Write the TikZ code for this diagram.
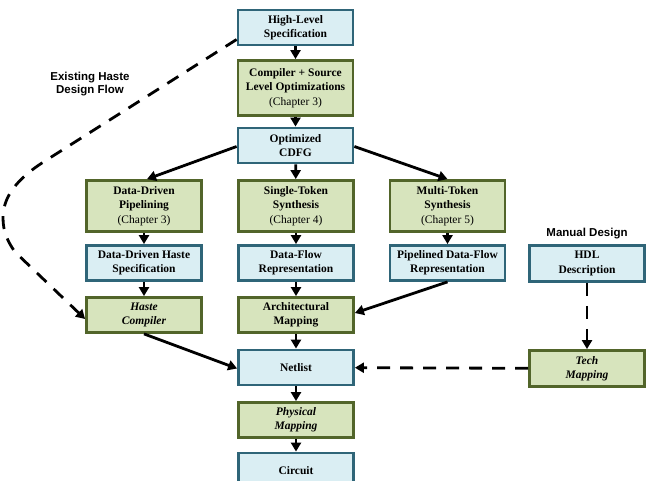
\documentclass[tikz,border=0pt]{standalone}
\usepackage{fontspec}
\setmainfont{Liberation Serif}
\newfontfamily\labelfont{Liberation Sans}
\usetikzlibrary{arrows.meta,calc}
\definecolor{bluefill}{HTML}{DAEEF3}
\definecolor{blueline}{HTML}{2F6578}
\definecolor{greenfill}{HTML}{D7E4BD}
\definecolor{greenline}{HTML}{52652A}
\begin{document}
\begin{tikzpicture}[x=1pt,y=-1pt,
  box/.style={draw,line width=2.8pt,minimum width=115pt,inner sep=0pt,align=center,
    font=\fontsize{11.5}{14.3}\selectfont\bfseries},
  bluebox/.style={box,fill=bluefill,draw=blueline},
  greenbox/.style={box,fill=greenfill,draw=greenline},
  arr/.style={line width=2.8pt,-{Triangle[length=9pt,width=10pt]}},
  darr/.style={arr,dash pattern=on 13pt off 10pt},
  lbl/.style={font=\labelfont\fontsize{11.5}{13.5}\selectfont\bfseries,align=center}]
\useasboundingbox (0,0) rectangle (651,481);
% boxes
\node[bluebox,minimum height=35pt] (hl) at (295.5,27.5) {High-Level\\Specification};
\node[greenbox,minimum height=55pt] (comp) at (295.5,88) {Compiler + Source\\Level Optimizations\\{\normalfont (Chapter 3)}};
\node[bluebox,minimum height=35pt] (cdfg) at (295.5,145.5) {Optimized\\CDFG};
\node[greenbox,minimum height=51pt] (ddp) at (144,206) {Data-Driven\\Pipelining\\{\normalfont (Chapter 3)}};
\node[greenbox,minimum height=51pt] (st) at (296,206) {Single-Token\\Synthesis\\{\normalfont (Chapter 4)}};
\node[greenbox,minimum height=51pt] (mt) at (447.5,206) {Multi-Token\\Synthesis\\{\normalfont (Chapter 5)}};
\node[bluebox,minimum height=35pt] (ddhs) at (144,263) {Data-Driven Haste\\Specification};
\node[bluebox,minimum height=35pt] (dfr) at (296,263) {Data-Flow\\Representation};
\node[bluebox,minimum height=35pt] (pdfr) at (447.5,263) {Pipelined Data-Flow\\Representation};
\node[greenbox,minimum height=35pt] (hc) at (144,315) {\itshape Haste\\\itshape Compiler};
\node[greenbox,minimum height=35pt] (am) at (296,315) {Architectural\\Mapping};
\node[bluebox,minimum height=35pt] (net) at (296,367.5) {Netlist};
\node[greenbox,minimum height=35pt] (pm) at (296,420) {\itshape Physical\\\itshape Mapping};
\node[bluebox,minimum height=35pt] (circ) at (296,470.5) {Circuit};
\node[bluebox,minimum height=36pt] (hdl) at (587,263.5) {HDL\\Description};
\node[greenbox,minimum height=36pt] (tm) at (587,368.5) {\itshape Tech\\\itshape Mapping};
% labels
\node[lbl] (ehdf) at (90,84) {Existing Haste\\Design Flow};
\node[lbl] (md) at (587,234) {Manual Design};
% arrows
\draw[arr] (hl) -- (comp);
\draw[arr] (comp) -- (cdfg);
\draw[arr] ($(cdfg.west)+(0,1)$) -- ($(ddp.north)+(3,0)$);
\draw[arr] (cdfg) -- (st);
\draw[arr] ($(cdfg.east)+(0,1)$) -- ($(mt.north)+(0,0)$);
\draw[arr] (ddp) -- (ddhs);
\draw[arr] (st) -- (dfr);
\draw[arr] (mt) -- (pdfr);
\draw[arr] (ddhs) -- (hc);
\draw[arr] (dfr) -- (am);
\draw[arr] (pdfr.south) -- ($(am.east)+(0,-2)$);
\draw[arr] (hc.south) -- ($(net.west)+(0,1)$);
\draw[arr] (am) -- (net);
\draw[arr] (net) -- (pm);
\draw[arr] (pm) -- (circ);
\draw[darr] (hdl) -- (tm);
\draw[darr] (tm) -- (net);
\coordinate (c1) at (45,161);
\coordinate (c2) at (3,218);
\coordinate (c3) at (15,252);
\draw[darr] ($(hl.west)+(0,12)$) -- (c1) .. controls (15,180) and (3,198) .. (c2)
  .. controls (3,232) and (8,242) .. (c3) -- ($(hc.west)+(0,4)$);
\end{tikzpicture}
\end{document}
